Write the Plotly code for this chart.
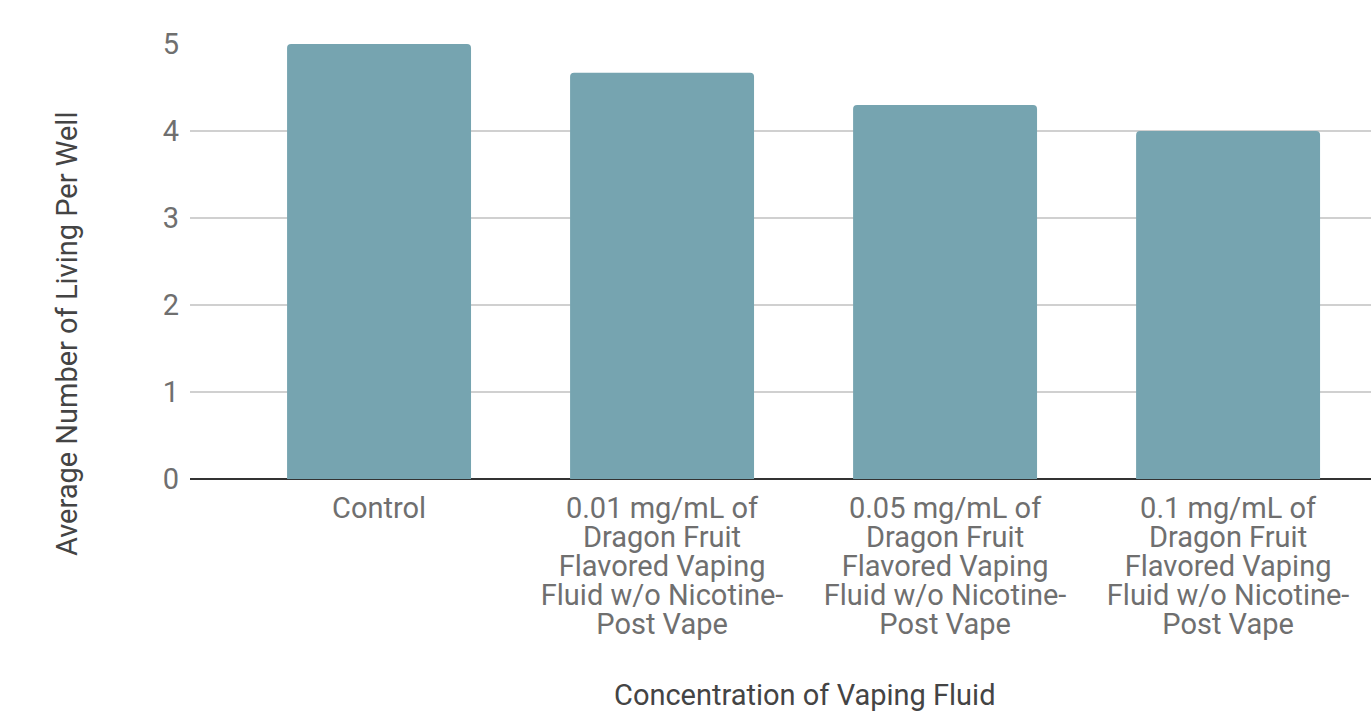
import plotly.graph_objects as go

label_lines = [
    ["Control"],
    ["0.01 mg/mL of", "Dragon Fruit", "Flavored Vaping", "Fluid w/o Nicotine-", "Post Vape"],
    ["0.05 mg/mL of", "Dragon Fruit", "Flavored Vaping", "Fluid w/o Nicotine-", "Post Vape"],
    ["0.1 mg/mL of", "Dragon Fruit", "Flavored Vaping", "Fluid w/o Nicotine-", "Post Vape"],
]
values = [5.0, 4.67, 4.3, 4.0]
y_ticks = [0, 1, 2, 3, 4, 5]
x_title = "Concentration of Vaping Fluid"
y_title = "Average Number of Living Per Well"

ticktext = ["<br>".join('<span style="font-size:29px">%s</span>' % l for l in lines) for lines in label_lines]

fig = go.Figure(
    go.Bar(
        x=list(range(len(values))),
        y=values,
        width=0.65,
        marker=dict(color="#76A4B0", cornerradius=4, line=dict(width=0)),
    )
)

fig.update_layout(
    width=1371,
    height=713,
    margin=dict(l=190, r=0, t=44, b=234),
    paper_bgcolor="white",
    plot_bgcolor="white",
    font=dict(family="Roboto", color="#444"),
    showlegend=False,
    xaxis=dict(
        tickmode="array",
        tickvals=list(range(len(values))),
        ticktext=ticktext,
        range=[-0.668, 3.505],
        showgrid=False,
        tickfont=dict(size=22.3, color="#6f6f6f"),
        ticklabelstandoff=16,
        showline=False,
        zeroline=False,
    ),
    yaxis=dict(
        range=[0, 5],
        tickvals=y_ticks,
        tickfont=dict(size=29, color="#6f6f6f"),
        gridcolor="#d0d0d0",
        gridwidth=2,
        zeroline=True,
        zerolinecolor="#333",
        zerolinewidth=2,
        ticklabelstandoff=10,
    ),
    annotations=[
        dict(text=x_title, xref="paper", yref="paper", x=0.5207, y=-0.4966,
             xanchor="center", yanchor="middle", showarrow=False,
             font=dict(size=29, color="#444")),
        dict(text=y_title, xref="paper", yref="paper", x=-0.10415, y=0.3356,
             xanchor="center", yanchor="middle", showarrow=False, textangle=-90,
             font=dict(size=29, color="#444")),
    ],
)

fig.write_html("out.html")
